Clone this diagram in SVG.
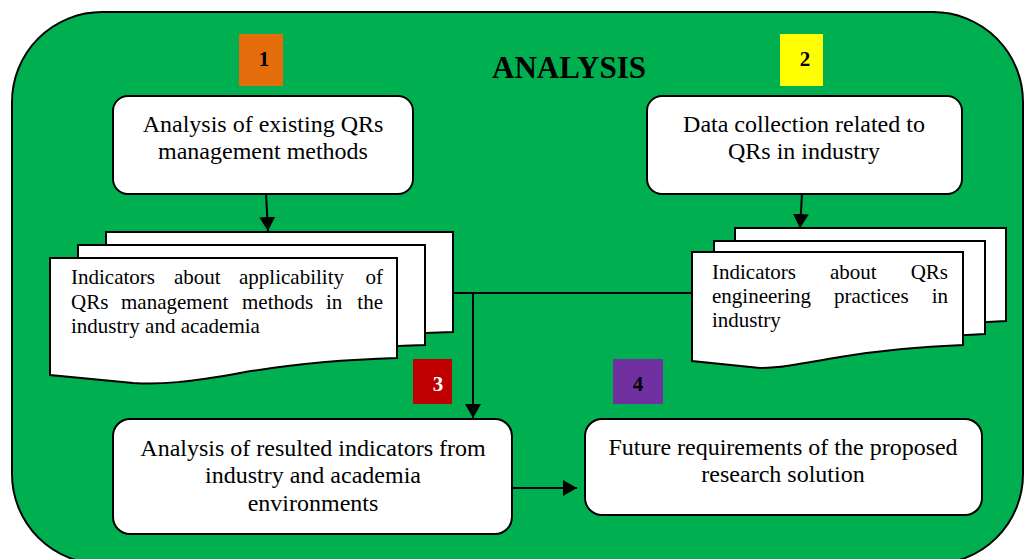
<svg xmlns="http://www.w3.org/2000/svg" width="1024" height="559" viewBox="0 0 1024 559">
<defs>
<style>
.frame{fill:#00B050;stroke:#000;stroke-width:2}
.box{fill:#fff;stroke:#000;stroke-width:2}
.doc{fill:#fff;stroke:#000;stroke-width:2}
.t{font-family:"Liberation Serif","Times New Roman",serif;font-size:24px;fill:#000;text-anchor:middle}
.d{font-family:"Liberation Serif","Times New Roman",serif;font-size:21px;fill:#000}
.n{font-family:"Liberation Serif","Times New Roman",serif;font-size:21px;font-weight:bold;text-anchor:middle}
.title{font-family:"Liberation Serif","Times New Roman",serif;font-size:31px;font-weight:bold;text-anchor:middle;fill:#000}
.c{fill:none;stroke:#000;stroke-width:2}
</style>
<marker id="ah" viewBox="0 0 14 16" refX="14" refY="8" markerWidth="14" markerHeight="16" markerUnits="userSpaceOnUse" orient="auto">
<path d="M0,0 L14,8 L0,16 Z" fill="#000"/>
</marker>
<path id="doc1" d="M50,258 H397 V358 C330,360 280,366 240,373 C190,382 160,385 133,383 L50,375 Z"/>
<path id="doc2" d="M692,252 H963 V345 C910,347 870,352 840,357 C800,364 780,368 760,368 L692,361 Z"/>
</defs>

<g id="background">
<rect class="frame" x="12" y="12" width="1011" height="552" rx="90" ry="90"/>
<text class="title" x="569" y="78">ANALYSIS</text>
</g>

<g id="label1">
<rect x="239" y="34" width="44" height="52" fill="#E46C0A"/>
<text class="n" x="264" y="66">1</text>
</g>
<g id="label2">
<rect x="780" y="34" width="43" height="52" fill="#FFFF00"/>
<text class="n" x="805" y="66">2</text>
</g>
<g id="label3">
<rect x="413" y="359" width="39" height="45" fill="#C00000"/>
<text class="n" x="438" y="391" fill="#fff">3</text>
</g>
<g id="label4">
<rect x="613" y="359" width="50" height="45" fill="#7030A0"/>
<text class="n" x="638" y="391">4</text>
</g>

<g id="node1">
<rect class="box" x="113" y="96" width="300" height="98" rx="15" ry="15"/>
<text class="t" x="263" y="132">Analysis of existing QRs</text>
<text class="t" x="263" y="159">management methods</text>
</g>

<g id="node2">
<rect class="box" x="647" y="96" width="315" height="98" rx="15" ry="15"/>
<text class="t" x="804" y="132">Data collection related to</text>
<text class="t" x="804" y="159">QRs in industry</text>
</g>

<g id="doc-left">
<use href="#doc1" class="doc" transform="translate(56,-26)"/>
<use href="#doc1" class="doc" transform="translate(28,-13)"/>
<use href="#doc1" class="doc"/>
<text class="d" x="71" y="284">Indicators</text>
<text class="d" x="174" y="284">about</text>
<text class="d" x="239" y="284">applicability</text>
<text class="d" x="383" y="284" text-anchor="end">of</text>
<text class="d" x="71" y="309">QRs</text>
<text class="d" x="121" y="309">management</text>
<text class="d" x="242" y="309">methods</text>
<text class="d" x="326" y="309">in</text>
<text class="d" x="383" y="309" text-anchor="end">the</text>
<text class="d" x="71" y="333">industry and academia</text>
</g>

<g id="doc-right">
<use href="#doc2" class="doc" transform="translate(43,-24)"/>
<use href="#doc2" class="doc" transform="translate(22,-11)"/>
<use href="#doc2" class="doc"/>
<text class="d" x="712" y="279">Indicators</text>
<text class="d" x="830" y="279">about</text>
<text class="d" x="948" y="279" text-anchor="end">QRs</text>
<text class="d" x="712" y="303">engineering</text>
<text class="d" x="834" y="303">practices</text>
<text class="d" x="948" y="303" text-anchor="end">in</text>
<text class="d" x="712" y="327">industry</text>
</g>

<g id="node3">
<rect class="box" x="113" y="419" width="399" height="115" rx="17" ry="17"/>
<text class="t" x="313" y="456">Analysis of resulted indicators from</text>
<text class="t" x="313" y="483">industry and academia</text>
<text class="t" x="313" y="511">environments</text>
</g>

<g id="node4">
<rect class="box" x="585" y="419" width="397" height="96" rx="17" ry="17"/>
<text class="t" x="783" y="455">Future requirements of the proposed</text>
<text class="t" x="783" y="482">research solution</text>
</g>

<g id="connectors">
<path class="c" d="M266,194 L268,231" marker-end="url(#ah)"/>
<path class="c" d="M802,194 L800,228" marker-end="url(#ah)"/>
<path class="c" d="M452,293 H692"/>
<path class="c" d="M473,293 V418" marker-end="url(#ah)"/>
<path class="c" d="M512,488 H577" marker-end="url(#ah)"/>
</g>
</svg>
